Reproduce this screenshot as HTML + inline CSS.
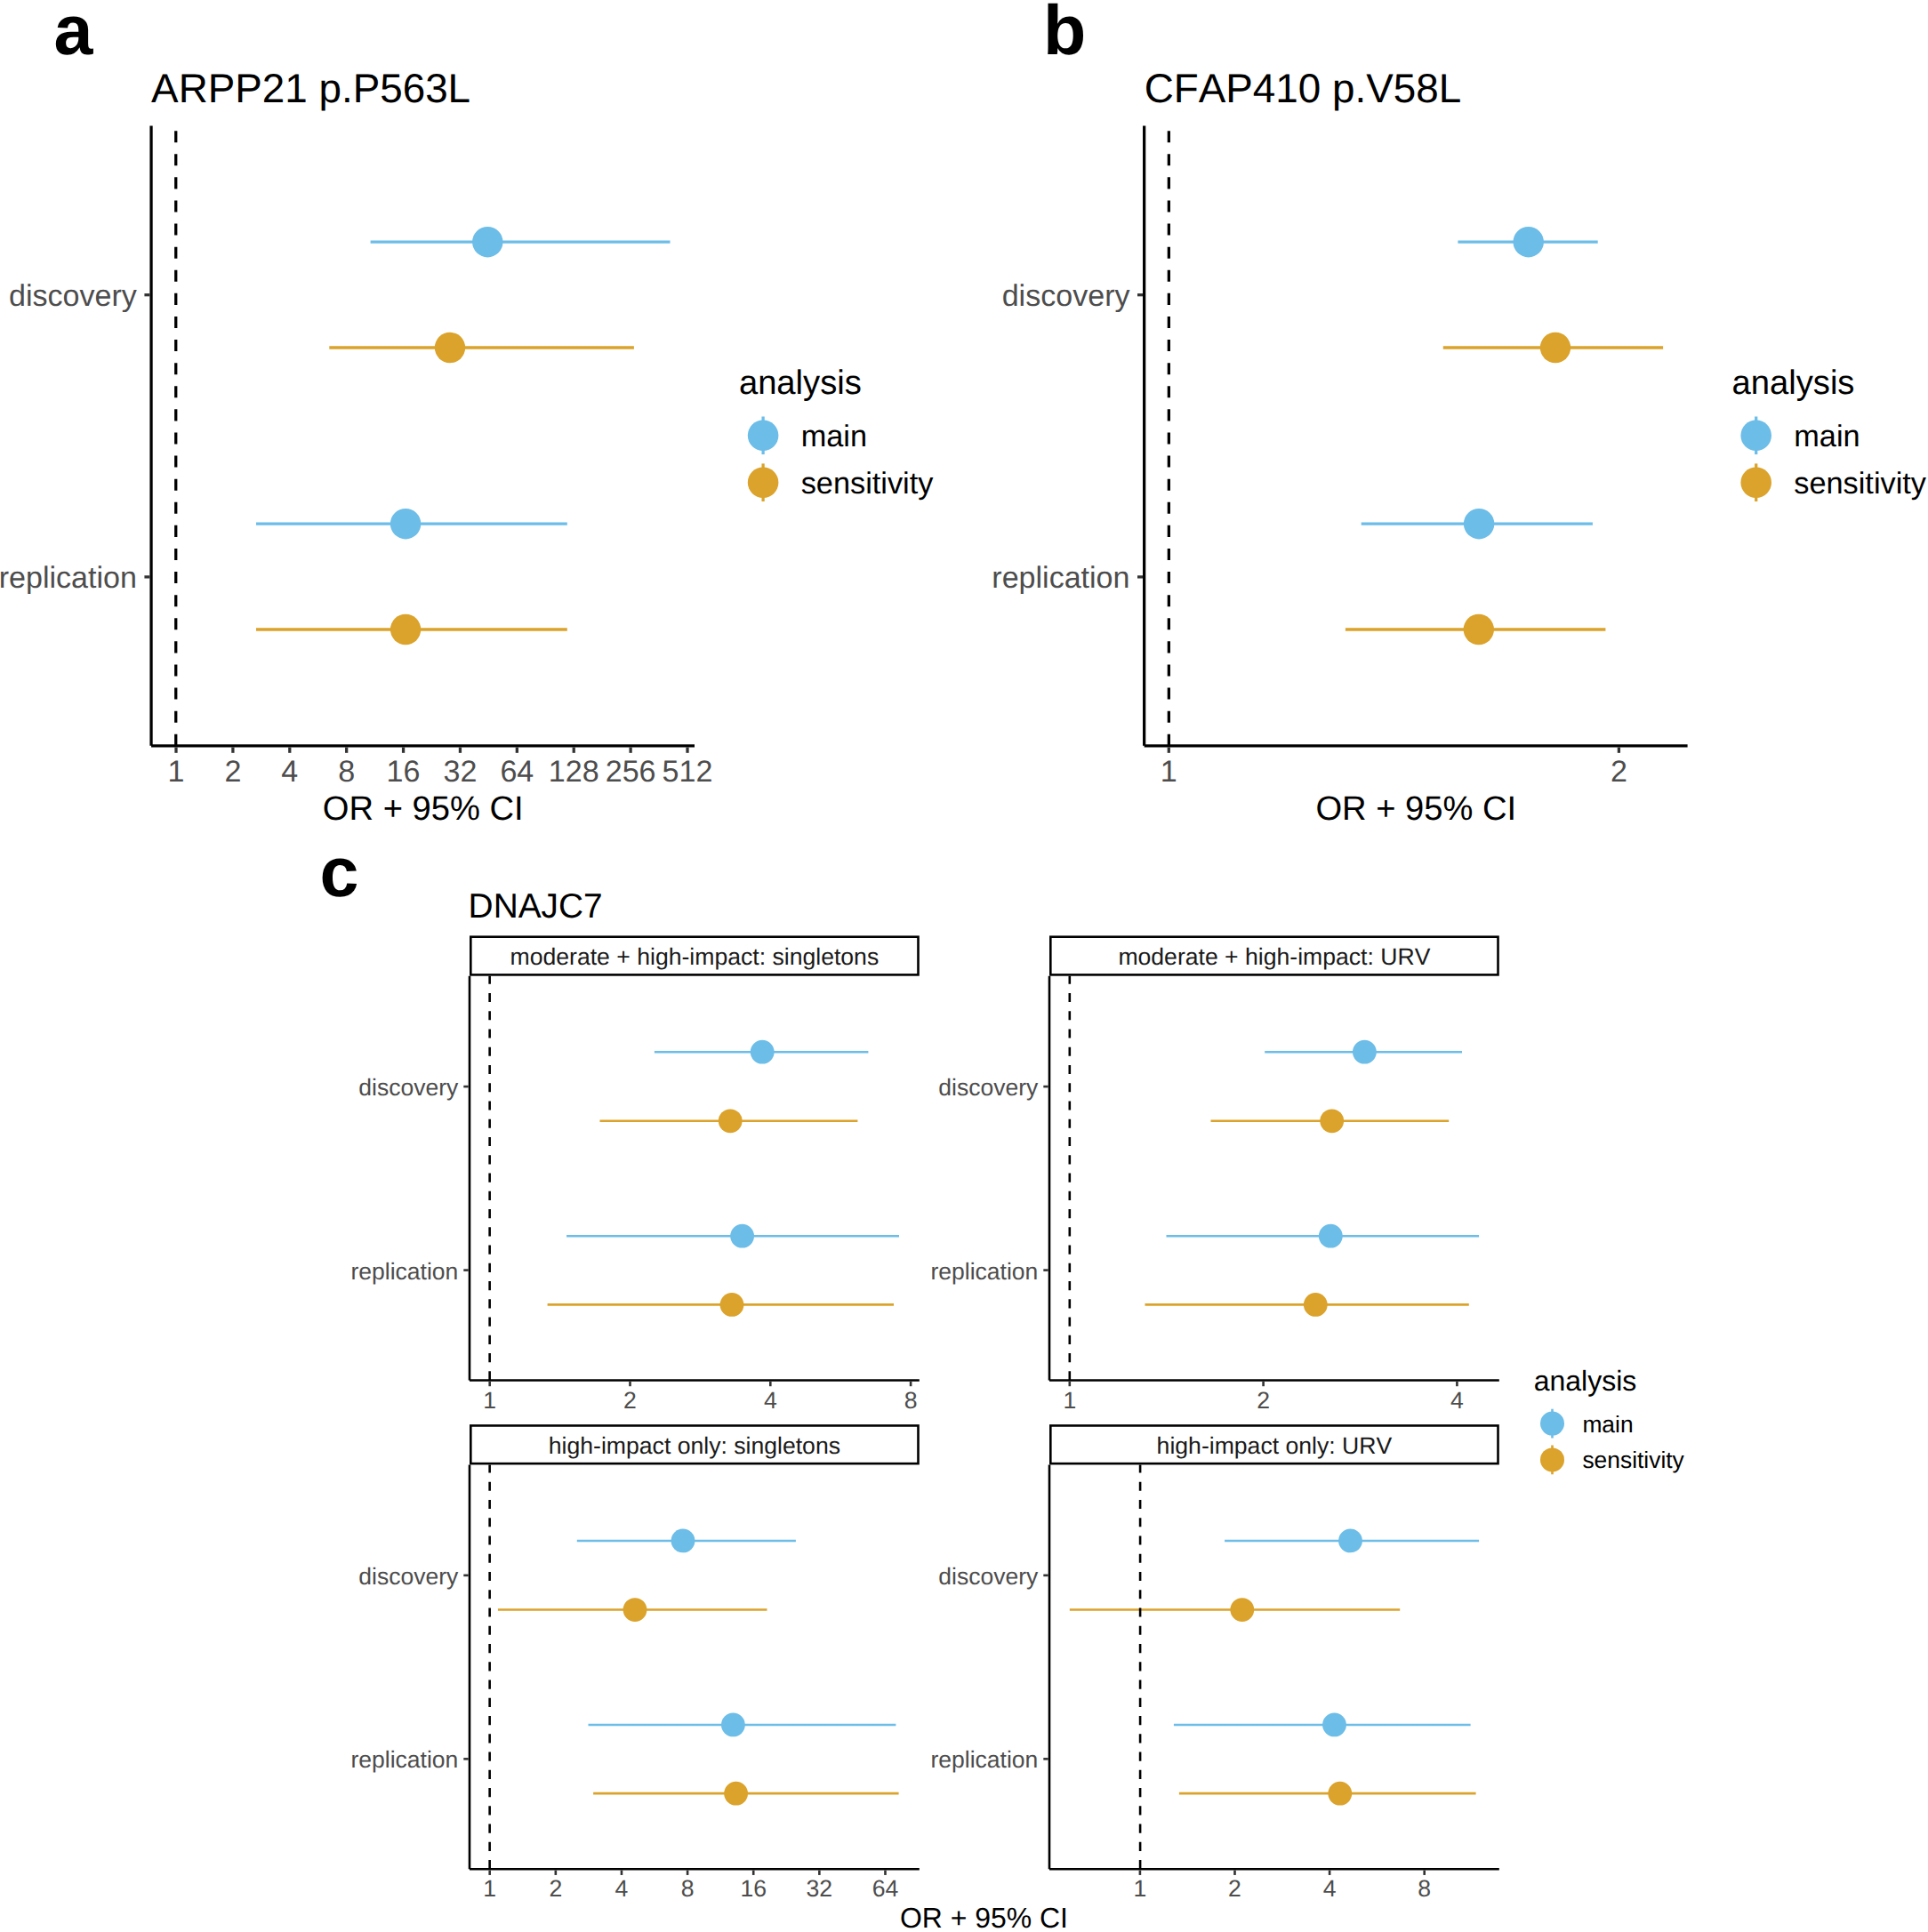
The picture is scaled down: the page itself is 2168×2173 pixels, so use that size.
<!DOCTYPE html>
<html lang="en">
<head>
<meta charset="utf-8">
<title>Figure: OR + 95% CI forest plots</title>
<style>
html,body{margin:0;padding:0;background:#fff;}
body{width:2168px;height:2173px;overflow:hidden;font-family:"Liberation Sans",Arial,Helvetica,sans-serif;}
svg{display:block;}
svg text{font-kerning:none;text-rendering:geometricPrecision;}
</style>
</head>
<body>
<svg width="2168" height="2173" viewBox="0 0 2168 2173" font-family="'Liberation Sans', Arial, Helvetica, sans-serif">
<rect width="2168" height="2173" fill="#fff"/>
<text x="60.60" y="61.20" font-size="79" fill="#000" text-anchor="start" font-weight="bold" >a</text>
<text x="170.10" y="115.30" font-size="45.8" fill="#000" text-anchor="start" font-weight="normal" >ARPP21 p.P563L</text>
<line x1="416.60" y1="272.20" x2="753.50" y2="272.20" stroke="#6cbde8" stroke-width="3.27" />
<circle cx="548.30" cy="272.20" r="17.2" fill="#6cbde8"/>
<line x1="370.30" y1="391.00" x2="712.90" y2="391.00" stroke="#dba32b" stroke-width="3.27" />
<circle cx="506.00" cy="391.00" r="17.2" fill="#dba32b"/>
<line x1="288.00" y1="589.20" x2="637.80" y2="589.20" stroke="#6cbde8" stroke-width="3.27" />
<circle cx="456.10" cy="589.20" r="17.2" fill="#6cbde8"/>
<line x1="288.00" y1="708.00" x2="637.80" y2="708.00" stroke="#dba32b" stroke-width="3.27" />
<circle cx="456.10" cy="708.00" r="17.2" fill="#dba32b"/>
<line x1="197.75" y1="838.80" x2="197.75" y2="141.60" stroke="#000" stroke-width="3.27" stroke-dasharray="13.05 13.05"/>
<line x1="170.05" y1="141.60" x2="170.05" y2="838.80" stroke="#000" stroke-width="3.27" />
<line x1="170.05" y1="838.80" x2="781.00" y2="838.80" stroke="#000" stroke-width="3.27" />
<line x1="198.00" y1="840.43" x2="198.00" y2="846.83" stroke="#333333" stroke-width="3.27" />
<text x="198.00" y="878.80" font-size="34.1" fill="#4d4d4d" text-anchor="middle" font-weight="normal" >1</text>
<line x1="261.89" y1="840.43" x2="261.89" y2="846.83" stroke="#333333" stroke-width="3.27" />
<text x="261.89" y="878.80" font-size="34.1" fill="#4d4d4d" text-anchor="middle" font-weight="normal" >2</text>
<line x1="325.78" y1="840.43" x2="325.78" y2="846.83" stroke="#333333" stroke-width="3.27" />
<text x="325.78" y="878.80" font-size="34.1" fill="#4d4d4d" text-anchor="middle" font-weight="normal" >4</text>
<line x1="389.67" y1="840.43" x2="389.67" y2="846.83" stroke="#333333" stroke-width="3.27" />
<text x="389.67" y="878.80" font-size="34.1" fill="#4d4d4d" text-anchor="middle" font-weight="normal" >8</text>
<line x1="453.56" y1="840.43" x2="453.56" y2="846.83" stroke="#333333" stroke-width="3.27" />
<text x="453.56" y="878.80" font-size="34.1" fill="#4d4d4d" text-anchor="middle" font-weight="normal" >16</text>
<line x1="517.45" y1="840.43" x2="517.45" y2="846.83" stroke="#333333" stroke-width="3.27" />
<text x="517.45" y="878.80" font-size="34.1" fill="#4d4d4d" text-anchor="middle" font-weight="normal" >32</text>
<line x1="581.34" y1="840.43" x2="581.34" y2="846.83" stroke="#333333" stroke-width="3.27" />
<text x="581.34" y="878.80" font-size="34.1" fill="#4d4d4d" text-anchor="middle" font-weight="normal" >64</text>
<line x1="645.23" y1="840.43" x2="645.23" y2="846.83" stroke="#333333" stroke-width="3.27" />
<text x="645.23" y="878.80" font-size="34.1" fill="#4d4d4d" text-anchor="middle" font-weight="normal" >128</text>
<line x1="709.12" y1="840.43" x2="709.12" y2="846.83" stroke="#333333" stroke-width="3.27" />
<text x="709.12" y="878.80" font-size="34.1" fill="#4d4d4d" text-anchor="middle" font-weight="normal" >256</text>
<line x1="773.01" y1="840.43" x2="773.01" y2="846.83" stroke="#333333" stroke-width="3.27" />
<text x="773.01" y="878.80" font-size="34.1" fill="#4d4d4d" text-anchor="middle" font-weight="normal" >512</text>
<line x1="162.42" y1="331.70" x2="168.42" y2="331.70" stroke="#333333" stroke-width="3.27" />
<text x="153.90" y="344.30" font-size="34.05" fill="#4d4d4d" text-anchor="end" font-weight="normal" >discovery</text>
<line x1="162.42" y1="648.90" x2="168.42" y2="648.90" stroke="#333333" stroke-width="3.27" />
<text x="153.90" y="661.40" font-size="34.05" fill="#4d4d4d" text-anchor="end" font-weight="normal" >replication</text>
<text x="475.72" y="922.00" font-size="38.15" fill="#000" text-anchor="middle" font-weight="normal" >OR + 95% CI</text>
<text x="830.90" y="442.90" font-size="38.2" fill="#000" text-anchor="start" font-weight="normal" >analysis</text>
<line x1="858.10" y1="468.50" x2="858.10" y2="511.10" stroke="#6cbde8" stroke-width="3.27" />
<circle cx="858.10" cy="489.80" r="17.3" fill="#6cbde8"/>
<line x1="858.10" y1="521.40" x2="858.10" y2="564.00" stroke="#dba32b" stroke-width="3.27" />
<circle cx="858.10" cy="542.70" r="17.3" fill="#dba32b"/>
<text x="900.70" y="502.10" font-size="34.3" fill="#000" text-anchor="start" font-weight="normal" >main</text>
<text x="900.70" y="554.70" font-size="34.3" fill="#000" text-anchor="start" font-weight="normal" >sensitivity</text>
<text x="1173.00" y="61.20" font-size="79" fill="#000" text-anchor="start" font-weight="bold" >b</text>
<text x="1286.70" y="115.30" font-size="45.8" fill="#000" text-anchor="start" font-weight="normal" >CFAP410 p.V58L</text>
<line x1="1639.40" y1="272.20" x2="1796.70" y2="272.20" stroke="#6cbde8" stroke-width="3.27" />
<circle cx="1718.70" cy="272.20" r="17.2" fill="#6cbde8"/>
<line x1="1622.80" y1="391.00" x2="1870.10" y2="391.00" stroke="#dba32b" stroke-width="3.27" />
<circle cx="1749.00" cy="391.00" r="17.2" fill="#dba32b"/>
<line x1="1530.70" y1="589.20" x2="1790.90" y2="589.20" stroke="#6cbde8" stroke-width="3.27" />
<circle cx="1663.10" cy="589.20" r="17.2" fill="#6cbde8"/>
<line x1="1512.90" y1="708.00" x2="1805.40" y2="708.00" stroke="#dba32b" stroke-width="3.27" />
<circle cx="1662.80" cy="708.00" r="17.2" fill="#dba32b"/>
<line x1="1314.35" y1="838.80" x2="1314.35" y2="141.60" stroke="#000" stroke-width="3.27" stroke-dasharray="13.05 13.05"/>
<line x1="1286.65" y1="141.60" x2="1286.65" y2="838.80" stroke="#000" stroke-width="3.27" />
<line x1="1286.65" y1="838.80" x2="1897.60" y2="838.80" stroke="#000" stroke-width="3.27" />
<line x1="1314.30" y1="840.43" x2="1314.30" y2="846.83" stroke="#333333" stroke-width="3.27" />
<text x="1314.30" y="878.80" font-size="34.1" fill="#4d4d4d" text-anchor="middle" font-weight="normal" >1</text>
<line x1="1820.40" y1="840.43" x2="1820.40" y2="846.83" stroke="#333333" stroke-width="3.27" />
<text x="1820.40" y="878.80" font-size="34.1" fill="#4d4d4d" text-anchor="middle" font-weight="normal" >2</text>
<line x1="1279.01" y1="331.70" x2="1285.01" y2="331.70" stroke="#333333" stroke-width="3.27" />
<text x="1270.50" y="344.30" font-size="34.05" fill="#4d4d4d" text-anchor="end" font-weight="normal" >discovery</text>
<line x1="1279.01" y1="648.90" x2="1285.01" y2="648.90" stroke="#333333" stroke-width="3.27" />
<text x="1270.50" y="661.40" font-size="34.05" fill="#4d4d4d" text-anchor="end" font-weight="normal" >replication</text>
<text x="1592.33" y="922.00" font-size="38.15" fill="#000" text-anchor="middle" font-weight="normal" >OR + 95% CI</text>
<text x="1947.50" y="442.90" font-size="38.2" fill="#000" text-anchor="start" font-weight="normal" >analysis</text>
<line x1="1974.70" y1="468.50" x2="1974.70" y2="511.10" stroke="#6cbde8" stroke-width="3.27" />
<circle cx="1974.70" cy="489.80" r="17.3" fill="#6cbde8"/>
<line x1="1974.70" y1="521.40" x2="1974.70" y2="564.00" stroke="#dba32b" stroke-width="3.27" />
<circle cx="1974.70" cy="542.70" r="17.3" fill="#dba32b"/>
<text x="2017.30" y="502.10" font-size="34.3" fill="#000" text-anchor="start" font-weight="normal" >main</text>
<text x="2017.30" y="554.70" font-size="34.3" fill="#000" text-anchor="start" font-weight="normal" >sensitivity</text>
<text x="359.50" y="1008.20" font-size="79" fill="#000" text-anchor="start" font-weight="bold" >c</text>
<text x="526.60" y="1031.60" font-size="38.85" fill="#000" text-anchor="start" font-weight="normal" >DNAJC7</text>
<line x1="735.90" y1="1183.20" x2="976.40" y2="1183.20" stroke="#6cbde8" stroke-width="2.6" />
<circle cx="857.20" cy="1183.20" r="13.4" fill="#6cbde8"/>
<line x1="674.50" y1="1260.80" x2="964.40" y2="1260.80" stroke="#dba32b" stroke-width="2.6" />
<circle cx="821.20" cy="1260.80" r="13.4" fill="#dba32b"/>
<line x1="637.10" y1="1390.20" x2="1011.00" y2="1390.20" stroke="#6cbde8" stroke-width="2.6" />
<circle cx="834.60" cy="1390.20" r="13.4" fill="#6cbde8"/>
<line x1="615.60" y1="1467.40" x2="1005.00" y2="1467.40" stroke="#dba32b" stroke-width="2.6" />
<circle cx="823.00" cy="1467.40" r="13.4" fill="#dba32b"/>
<line x1="550.65" y1="1552.50" x2="550.65" y2="1097.70" stroke="#000" stroke-width="2.6" stroke-dasharray="10.13 10.13"/>
<line x1="528.00" y1="1097.70" x2="528.00" y2="1552.50" stroke="#000" stroke-width="2.6" />
<line x1="528.00" y1="1552.50" x2="1033.80" y2="1552.50" stroke="#000" stroke-width="2.6" />
<line x1="550.70" y1="1553.80" x2="550.70" y2="1559.20" stroke="#333333" stroke-width="2.6" />
<text x="550.70" y="1583.50" font-size="26.6" fill="#4d4d4d" text-anchor="middle" font-weight="normal" >1</text>
<line x1="708.50" y1="1553.80" x2="708.50" y2="1559.20" stroke="#333333" stroke-width="2.6" />
<text x="708.50" y="1583.50" font-size="26.6" fill="#4d4d4d" text-anchor="middle" font-weight="normal" >2</text>
<line x1="866.30" y1="1553.80" x2="866.30" y2="1559.20" stroke="#333333" stroke-width="2.6" />
<text x="866.30" y="1583.50" font-size="26.6" fill="#4d4d4d" text-anchor="middle" font-weight="normal" >4</text>
<line x1="1024.10" y1="1553.80" x2="1024.10" y2="1559.20" stroke="#333333" stroke-width="2.6" />
<text x="1024.10" y="1583.50" font-size="26.6" fill="#4d4d4d" text-anchor="middle" font-weight="normal" >8</text>
<line x1="521.30" y1="1222.10" x2="526.70" y2="1222.10" stroke="#333333" stroke-width="2.6" />
<text x="515.30" y="1232.10" font-size="26.5" fill="#4d4d4d" text-anchor="end" font-weight="normal" >discovery</text>
<line x1="521.30" y1="1428.60" x2="526.70" y2="1428.60" stroke="#333333" stroke-width="2.6" />
<text x="515.30" y="1438.70" font-size="26.5" fill="#4d4d4d" text-anchor="end" font-weight="normal" >replication</text>
<rect x="529.30" y="1053.70" width="503.20" height="42.70" fill="#fff" stroke="#000" stroke-width="2.6"/>
<text x="780.90" y="1084.90" font-size="26.6" fill="#1a1a1a" text-anchor="middle" font-weight="normal" >moderate + high-impact: singletons</text>
<line x1="1422.20" y1="1183.20" x2="1644.00" y2="1183.20" stroke="#6cbde8" stroke-width="2.6" />
<circle cx="1534.40" cy="1183.20" r="13.4" fill="#6cbde8"/>
<line x1="1361.50" y1="1260.80" x2="1629.20" y2="1260.80" stroke="#dba32b" stroke-width="2.6" />
<circle cx="1497.70" cy="1260.80" r="13.4" fill="#dba32b"/>
<line x1="1311.50" y1="1390.20" x2="1663.10" y2="1390.20" stroke="#6cbde8" stroke-width="2.6" />
<circle cx="1496.30" cy="1390.20" r="13.4" fill="#6cbde8"/>
<line x1="1287.50" y1="1467.40" x2="1651.80" y2="1467.40" stroke="#dba32b" stroke-width="2.6" />
<circle cx="1479.30" cy="1467.40" r="13.4" fill="#dba32b"/>
<line x1="1202.80" y1="1552.50" x2="1202.80" y2="1097.70" stroke="#000" stroke-width="2.6" stroke-dasharray="10.13 10.13"/>
<line x1="1180.00" y1="1097.70" x2="1180.00" y2="1552.50" stroke="#000" stroke-width="2.6" />
<line x1="1180.00" y1="1552.50" x2="1685.80" y2="1552.50" stroke="#000" stroke-width="2.6" />
<line x1="1202.80" y1="1553.80" x2="1202.80" y2="1559.20" stroke="#333333" stroke-width="2.6" />
<text x="1202.80" y="1583.50" font-size="26.6" fill="#4d4d4d" text-anchor="middle" font-weight="normal" >1</text>
<line x1="1420.60" y1="1553.80" x2="1420.60" y2="1559.20" stroke="#333333" stroke-width="2.6" />
<text x="1420.60" y="1583.50" font-size="26.6" fill="#4d4d4d" text-anchor="middle" font-weight="normal" >2</text>
<line x1="1638.40" y1="1553.80" x2="1638.40" y2="1559.20" stroke="#333333" stroke-width="2.6" />
<text x="1638.40" y="1583.50" font-size="26.6" fill="#4d4d4d" text-anchor="middle" font-weight="normal" >4</text>
<line x1="1173.30" y1="1222.10" x2="1178.70" y2="1222.10" stroke="#333333" stroke-width="2.6" />
<text x="1167.30" y="1232.10" font-size="26.5" fill="#4d4d4d" text-anchor="end" font-weight="normal" >discovery</text>
<line x1="1173.30" y1="1428.60" x2="1178.70" y2="1428.60" stroke="#333333" stroke-width="2.6" />
<text x="1167.30" y="1438.70" font-size="26.5" fill="#4d4d4d" text-anchor="end" font-weight="normal" >replication</text>
<rect x="1181.30" y="1053.70" width="503.20" height="42.70" fill="#fff" stroke="#000" stroke-width="2.6"/>
<text x="1432.90" y="1084.90" font-size="26.6" fill="#1a1a1a" text-anchor="middle" font-weight="normal" >moderate + high-impact: URV</text>
<line x1="648.80" y1="1732.95" x2="894.90" y2="1732.95" stroke="#6cbde8" stroke-width="2.6" />
<circle cx="768.00" cy="1732.95" r="13.4" fill="#6cbde8"/>
<line x1="559.90" y1="1810.55" x2="862.50" y2="1810.55" stroke="#dba32b" stroke-width="2.6" />
<circle cx="714.00" cy="1810.55" r="13.4" fill="#dba32b"/>
<line x1="661.50" y1="1939.95" x2="1007.40" y2="1939.95" stroke="#6cbde8" stroke-width="2.6" />
<circle cx="824.40" cy="1939.95" r="13.4" fill="#6cbde8"/>
<line x1="667.10" y1="2017.15" x2="1010.60" y2="2017.15" stroke="#dba32b" stroke-width="2.6" />
<circle cx="827.60" cy="2017.15" r="13.4" fill="#dba32b"/>
<line x1="550.65" y1="2102.25" x2="550.65" y2="1647.45" stroke="#000" stroke-width="2.6" stroke-dasharray="10.13 10.13"/>
<line x1="528.00" y1="1647.45" x2="528.00" y2="2102.25" stroke="#000" stroke-width="2.6" />
<line x1="528.00" y1="2102.25" x2="1033.80" y2="2102.25" stroke="#000" stroke-width="2.6" />
<line x1="550.70" y1="2103.55" x2="550.70" y2="2108.95" stroke="#333333" stroke-width="2.6" />
<text x="550.70" y="2132.90" font-size="26.6" fill="#4d4d4d" text-anchor="middle" font-weight="normal" >1</text>
<line x1="624.83" y1="2103.55" x2="624.83" y2="2108.95" stroke="#333333" stroke-width="2.6" />
<text x="624.83" y="2132.90" font-size="26.6" fill="#4d4d4d" text-anchor="middle" font-weight="normal" >2</text>
<line x1="698.96" y1="2103.55" x2="698.96" y2="2108.95" stroke="#333333" stroke-width="2.6" />
<text x="698.96" y="2132.90" font-size="26.6" fill="#4d4d4d" text-anchor="middle" font-weight="normal" >4</text>
<line x1="773.09" y1="2103.55" x2="773.09" y2="2108.95" stroke="#333333" stroke-width="2.6" />
<text x="773.09" y="2132.90" font-size="26.6" fill="#4d4d4d" text-anchor="middle" font-weight="normal" >8</text>
<line x1="847.22" y1="2103.55" x2="847.22" y2="2108.95" stroke="#333333" stroke-width="2.6" />
<text x="847.22" y="2132.90" font-size="26.6" fill="#4d4d4d" text-anchor="middle" font-weight="normal" >16</text>
<line x1="921.35" y1="2103.55" x2="921.35" y2="2108.95" stroke="#333333" stroke-width="2.6" />
<text x="921.35" y="2132.90" font-size="26.6" fill="#4d4d4d" text-anchor="middle" font-weight="normal" >32</text>
<line x1="995.48" y1="2103.55" x2="995.48" y2="2108.95" stroke="#333333" stroke-width="2.6" />
<text x="995.48" y="2132.90" font-size="26.6" fill="#4d4d4d" text-anchor="middle" font-weight="normal" >64</text>
<line x1="521.30" y1="1771.85" x2="526.70" y2="1771.85" stroke="#333333" stroke-width="2.6" />
<text x="515.30" y="1781.85" font-size="26.5" fill="#4d4d4d" text-anchor="end" font-weight="normal" >discovery</text>
<line x1="521.30" y1="1978.35" x2="526.70" y2="1978.35" stroke="#333333" stroke-width="2.6" />
<text x="515.30" y="1988.45" font-size="26.5" fill="#4d4d4d" text-anchor="end" font-weight="normal" >replication</text>
<rect x="529.30" y="1603.45" width="503.20" height="42.70" fill="#fff" stroke="#000" stroke-width="2.6"/>
<text x="780.90" y="1634.65" font-size="26.6" fill="#1a1a1a" text-anchor="middle" font-weight="normal" >high-impact only: singletons</text>
<line x1="1377.10" y1="1732.95" x2="1663.10" y2="1732.95" stroke="#6cbde8" stroke-width="2.6" />
<circle cx="1518.50" cy="1732.95" r="13.4" fill="#6cbde8"/>
<line x1="1202.80" y1="1810.55" x2="1574.20" y2="1810.55" stroke="#dba32b" stroke-width="2.6" />
<circle cx="1396.80" cy="1810.55" r="13.4" fill="#dba32b"/>
<line x1="1319.90" y1="1939.95" x2="1653.60" y2="1939.95" stroke="#6cbde8" stroke-width="2.6" />
<circle cx="1500.50" cy="1939.95" r="13.4" fill="#6cbde8"/>
<line x1="1325.90" y1="2017.15" x2="1659.60" y2="2017.15" stroke="#dba32b" stroke-width="2.6" />
<circle cx="1506.80" cy="2017.15" r="13.4" fill="#dba32b"/>
<line x1="1282.10" y1="2102.25" x2="1282.10" y2="1647.45" stroke="#000" stroke-width="2.6" stroke-dasharray="10.13 10.13"/>
<line x1="1180.00" y1="1647.45" x2="1180.00" y2="2102.25" stroke="#000" stroke-width="2.6" />
<line x1="1180.00" y1="2102.25" x2="1685.80" y2="2102.25" stroke="#000" stroke-width="2.6" />
<line x1="1281.90" y1="2103.55" x2="1281.90" y2="2108.95" stroke="#333333" stroke-width="2.6" />
<text x="1281.90" y="2132.90" font-size="26.6" fill="#4d4d4d" text-anchor="middle" font-weight="normal" >1</text>
<line x1="1388.50" y1="2103.55" x2="1388.50" y2="2108.95" stroke="#333333" stroke-width="2.6" />
<text x="1388.50" y="2132.90" font-size="26.6" fill="#4d4d4d" text-anchor="middle" font-weight="normal" >2</text>
<line x1="1495.10" y1="2103.55" x2="1495.10" y2="2108.95" stroke="#333333" stroke-width="2.6" />
<text x="1495.10" y="2132.90" font-size="26.6" fill="#4d4d4d" text-anchor="middle" font-weight="normal" >4</text>
<line x1="1601.70" y1="2103.55" x2="1601.70" y2="2108.95" stroke="#333333" stroke-width="2.6" />
<text x="1601.70" y="2132.90" font-size="26.6" fill="#4d4d4d" text-anchor="middle" font-weight="normal" >8</text>
<line x1="1173.30" y1="1771.85" x2="1178.70" y2="1771.85" stroke="#333333" stroke-width="2.6" />
<text x="1167.30" y="1781.85" font-size="26.5" fill="#4d4d4d" text-anchor="end" font-weight="normal" >discovery</text>
<line x1="1173.30" y1="1978.35" x2="1178.70" y2="1978.35" stroke="#333333" stroke-width="2.6" />
<text x="1167.30" y="1988.45" font-size="26.5" fill="#4d4d4d" text-anchor="end" font-weight="normal" >replication</text>
<rect x="1181.30" y="1603.45" width="503.20" height="42.70" fill="#fff" stroke="#000" stroke-width="2.6"/>
<text x="1432.90" y="1634.65" font-size="26.6" fill="#1a1a1a" text-anchor="middle" font-weight="normal" >high-impact only: URV</text>
<text x="1106.40" y="2167.80" font-size="31.95" fill="#000" text-anchor="middle" font-weight="normal" >OR + 95% CI</text>
<text x="1724.70" y="1563.50" font-size="32.0" fill="#000" text-anchor="start" font-weight="normal" >analysis</text>
<line x1="1745.50" y1="1584.70" x2="1745.50" y2="1617.50" stroke="#6cbde8" stroke-width="2.6" />
<circle cx="1745.50" cy="1601.10" r="13.5" fill="#6cbde8"/>
<line x1="1745.50" y1="1625.50" x2="1745.50" y2="1658.30" stroke="#dba32b" stroke-width="2.6" />
<circle cx="1745.50" cy="1641.90" r="13.5" fill="#dba32b"/>
<text x="1779.40" y="1610.80" font-size="26.4" fill="#000" text-anchor="start" font-weight="normal" >main</text>
<text x="1779.40" y="1651.20" font-size="26.4" fill="#000" text-anchor="start" font-weight="normal" >sensitivity</text>
</svg>
</body>
</html>
